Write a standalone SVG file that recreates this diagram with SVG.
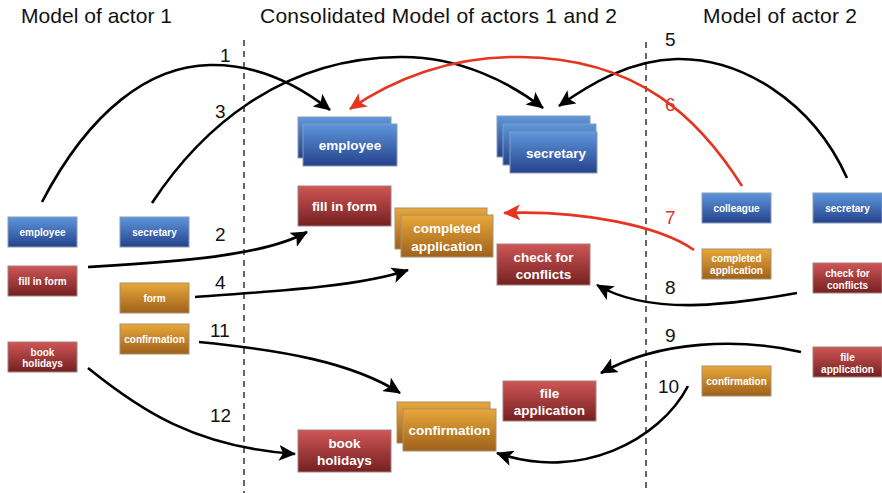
<svg xmlns="http://www.w3.org/2000/svg" width="882" height="493" viewBox="0 0 882 493">
<defs>
<linearGradient id="gBlue" x1="0" y1="0" x2="0" y2="1"><stop offset="0" stop-color="#5e97dc"/><stop offset="1" stop-color="#24428c"/></linearGradient>
<linearGradient id="gRed" x1="0" y1="0" x2="0" y2="1"><stop offset="0" stop-color="#cf5656"/><stop offset="1" stop-color="#752020"/></linearGradient>
<linearGradient id="gOrange" x1="0" y1="0" x2="0" y2="1"><stop offset="0" stop-color="#e9a83a"/><stop offset="1" stop-color="#9e611b"/></linearGradient>
<marker id="ahB" markerUnits="userSpaceOnUse" markerWidth="18" markerHeight="16" refX="16" refY="8" orient="auto"><path d="M0,0 L17,8 L0,16 L4,8 z" fill="#000"/></marker>
<marker id="ahR" markerUnits="userSpaceOnUse" markerWidth="18" markerHeight="16" refX="16" refY="8" orient="auto"><path d="M0,0 L17,8 L0,16 L4,8 z" fill="#e5341f"/></marker>
</defs>
<style>
.blue{fill:url(#gBlue);stroke:#8a9bb0;stroke-width:1}
.red{fill:url(#gRed);stroke:#a08080;stroke-width:1}
.orange{fill:url(#gOrange);stroke:#a89070;stroke-width:1}
.s{font-family:"Liberation Sans",Arial,sans-serif;font-weight:bold;font-size:10px;fill:#fff;text-anchor:middle}
.l{font-family:"Liberation Sans",Arial,sans-serif;font-weight:bold;font-size:13.5px;fill:#fff;text-anchor:middle}
.title{font-family:"Liberation Sans",Arial,sans-serif;font-size:21px;fill:#111}
.num{font-family:"Liberation Sans",Arial,sans-serif;font-size:19px;fill:#111}
.numr{font-family:"Liberation Sans",Arial,sans-serif;font-size:19px;fill:#e5341f}
.cb{fill:none;stroke:#000;stroke-width:2.6;marker-end:url(#ahB)}
.cr{fill:none;stroke:#e5341f;stroke-width:2.6;marker-end:url(#ahR)}
.dash{stroke:#000;stroke-width:1.2;stroke-dasharray:6,5}
</style>
<rect width="882" height="493" fill="#fff"/>
<text class="title" x="21" y="23" textLength="151">Model of actor 1</text>
<text class="title" x="260" y="23" textLength="357">Consolidated Model of actors 1 and 2</text>
<text class="title" x="703" y="23" textLength="154">Model of actor 2</text>
<line class="dash" x1="244" y1="40" x2="244" y2="493"/>
<line class="dash" x1="646" y1="42" x2="646" y2="493"/>

<g id="a1-employee"><rect class="blue" x="8" y="217" width="69" height="30"/><text class="s" x="42.5" y="235.5">employee</text></g>
<g id="a1-secretary"><rect class="blue" x="120" y="217" width="69" height="30"/><text class="s" x="154.5" y="235.5">secretary</text></g>
<g id="a1-fillinform"><rect class="red" x="8" y="266" width="69" height="30"/><text class="s" x="42.5" y="284.5">fill in form</text></g>
<g id="a1-form"><rect class="orange" x="120" y="283" width="69" height="30"/><text class="s" x="154.5" y="301.5">form</text></g>
<g id="a1-confirmation"><rect class="orange" x="120" y="324" width="69" height="30"/><text class="s" x="154.5" y="342.5">confirmation</text></g>
<g id="a1-bookholidays"><rect class="red" x="8" y="342" width="69" height="30"/><text class="s" x="42.5" y="355.5">book</text><text class="s" x="42.5" y="367">holidays</text></g>

<g id="c-employee"><rect class="blue" x="298" y="117" width="93" height="41"/><rect class="blue" x="303" y="124" width="94" height="42"/><text class="l" x="350" y="150">employee</text></g>
<g id="c-secretary"><rect class="blue" x="497" y="116" width="93" height="41"/><rect class="blue" x="503" y="124" width="93" height="41"/><rect class="blue" x="510" y="132" width="87" height="41"/><text class="l" x="556" y="158">secretary</text></g>
<g id="c-fillinform"><rect class="red" x="298" y="186" width="93" height="40"/><text class="l" x="344.5" y="211">fill in form</text></g>
<g id="c-completedapplication"><rect class="orange" x="395" y="208" width="92" height="41"/><rect class="orange" x="401" y="215" width="92" height="42"/><text class="l" x="447" y="233">completed</text><text class="l" x="447" y="251">application</text></g>
<g id="c-checkforconflicts"><rect class="red" x="497" y="244" width="93" height="41"/><text class="l" x="543.5" y="262">check for</text><text class="l" x="543.5" y="279">conflicts</text></g>
<g id="c-fileapplication"><rect class="red" x="503" y="381" width="93" height="40"/><text class="l" x="549.5" y="398">file</text><text class="l" x="549.5" y="415">application</text></g>
<g id="c-confirmation"><rect class="orange" x="397" y="402" width="93" height="41"/><rect class="orange" x="403" y="409" width="93" height="42"/><text class="l" x="449.5" y="435">confirmation</text></g>
<g id="c-bookholidays"><rect class="red" x="298" y="430" width="93" height="42"/><text class="l" x="344.5" y="448">book</text><text class="l" x="344.5" y="465">holidays</text></g>

<g id="a2-colleague"><rect class="blue" x="702" y="193" width="69" height="30"/><text class="s" x="736.5" y="211.5">colleague</text></g>
<g id="a2-secretary"><rect class="blue" x="813" y="193" width="69" height="30"/><text class="s" x="847.5" y="211.5">secretary</text></g>
<g id="a2-completedapplication"><rect class="orange" x="702" y="249" width="69" height="30"/><text class="s" x="736.5" y="261.5">completed</text><text class="s" x="736.5" y="273.5">application</text></g>
<g id="a2-checkforconflicts"><rect class="red" x="813" y="263" width="69" height="30"/><text class="s" x="847.5" y="276.5">check for</text><text class="s" x="847.5" y="288.5">conflicts</text></g>
<g id="a2-fileapplication"><rect class="red" x="813" y="347" width="69" height="30"/><text class="s" x="847.5" y="360.5">file</text><text class="s" x="847.5" y="372.5">application</text></g>
<g id="a2-confirmation"><rect class="orange" x="702" y="366" width="69" height="30"/><text class="s" x="736.5" y="384.5">confirmation</text></g>

<g id="connectors">
<path class="cb" d="M42,202 C90,110 150,66 210,65 C262,64 302,88 330,110"/>
<path class="cb" d="M152,203 C200,130 280,58 400,57 C460,56 512,84 543,108"/>
<path class="cb" d="M847,178 C812,100 740,58 677,59 C630,60 590,84 559,106"/>
<path class="cr" d="M742,186 C700,120 640,58 520,57 C450,56 392,80 350,109"/>
<path class="cb" d="M88,267 C170,262 262,257 307,232"/>
<path class="cr" d="M694,250 C660,226 582,210 504,213"/>
<path class="cb" d="M195,297 C280,291 362,286 408,270"/>
<path class="cb" d="M797,293 C730,305 650,316 597,285"/>
<path class="cb" d="M199,342 C280,350 352,362 400,393"/>
<path class="cb" d="M801,352 C740,338 660,340 601,373"/>
<path class="cb" d="M688,386 C660,440 580,482 497,453"/>
<path class="cb" d="M88,368 C140,410 195,447 295,454"/>
</g>
<g id="labels">
<text class="num" x="220" y="62">1</text>
<text class="num" x="215" y="118">3</text>
<text class="num" x="215" y="241">2</text>
<text class="num" x="215" y="289">4</text>
<text class="num" x="210" y="337">11</text>
<text class="num" x="210" y="422">12</text>
<text class="num" x="665" y="46">5</text>
<text class="numr" x="665" y="111">6</text>
<text class="numr" x="665" y="224">7</text>
<text class="num" x="665" y="294">8</text>
<text class="num" x="665" y="342">9</text>
<text class="num" x="658" y="393">10</text>
</g>
</svg>
